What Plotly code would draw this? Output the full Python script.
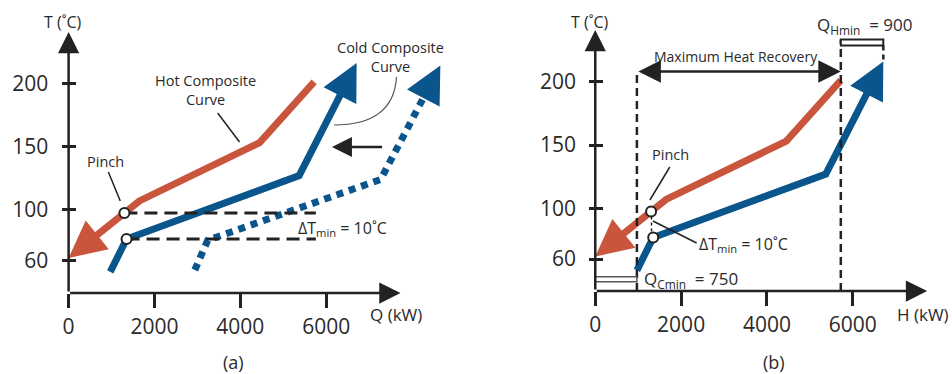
import math
import plotly.graph_objects as go

W, H = 952, 374

# ---------------- data ----------------
hot_Q = [5720, 4450, 1650, 0]          # hot composite curve (kW)
hot_T = [201, 153, 107, 62]            # degC
cold_Q = [970, 1350, 5370, 6710]       # cold composite curve (kW)
cold_T = [51, 77, 127, 216]
shift_Q = [2940, 3240, 7270, 8660]     # cold curve before shifting (panel a, dotted)
shift_T = [52.5, 76, 124, 214]
pinch_Q = [1300, 1350]                 # pinch points (hot, cold)
pinch_T = [97.5, 77]
x_tickvals = [0, 2000, 4000, 6000]
y_tickvals = [60, 100, 150, 200]
guide_end_Q = 5760                     # end of the dashed pinch guides
recovery_T = 208                       # level of the "Maximum Heat Recovery" arrow
QHmin_T = [228.5, 233.2]
QCmin_T = [42, 46]
dTmin_label = "10˚C"
QHmin_label = "900"
QCmin_label = "750"

RED = "#C9553D"
BLUE = "#0A568C"
INK = "#222222"
TXT = "#2a2a2a"
FONT = "Open Sans"

# ---------------- panel geometry (pixels) ----------------
KX = 0.0432      # px per kW
KY = 1.2668      # px per degC
TREF = 127.5
panels = {
    "a": dict(x0=63.0, yref=175.0, right=455.0, top=12.0, bottom=293.0, xa="x", ya="y", tickx=70.0),
    "b": dict(x0=593.0, yref=173.5, right=945.0, top=12.0, bottom=291.0, xa="x2", ya="y2", tickx=601.0),
}


def to_px(p, Q, T):
    g = panels[p]
    return g["x0"] + KX * Q, g["yref"] - KY * (T - TREF)


def to_data(p, X, Y):
    g = panels[p]
    return (X - g["x0"]) / KX, TREF + (g["yref"] - Y) / KY


def unit(p, a, b):
    ax_, ay_ = to_px(p, *a)
    bx_, by_ = to_px(p, *b)
    d = math.hypot(bx_ - ax_, by_ - ay_)
    return (bx_ - ax_) / d, (by_ - ay_) / d


def arrow(p, tail, tip, width, size, color, both=False, short=None):
    """Annotation arrow whose head tip lands on `tip` (data coords)."""
    g = panels[p]
    ux, uy = unit(p, tail, tip)
    s = width * size
    tx, ty = to_px(p, *tip)
    sx, sy = to_px(p, *tail)
    if short is not None:
        sx, sy = tx - short * 5 * s * ux, ty - short * 5 * s * uy
    AX, AY = to_data(p, sx, sy)
    return dict(x=tip[0], y=tip[1], ax=AX, ay=AY, xref=g["xa"], yref=g["ya"],
                axref=g["xa"], ayref=g["ya"], showarrow=True, text="",
                arrowhead=2, arrowsize=size, arrowwidth=width, arrowcolor=color,
                startarrowhead=2, startarrowsize=size,
                arrowside="end+start" if both else "end",
                standoff=0, startstandoff=0)


def truncated(p, Qs, Ts, back_px):
    ux, uy = unit(p, (Qs[-2], Ts[-2]), (Qs[-1], Ts[-1]))
    tx, ty = to_px(p, Qs[-1], Ts[-1])
    X, Y = to_data(p, tx - back_px * ux, ty - back_px * uy)
    return list(Qs[:-1]) + [X], list(Ts[:-1]) + [Y]


def ptxt(x, y, text, size=14, xanchor="center", color=TXT):
    return dict(x=x / W, y=1 - y / H, xref="paper", yref="paper", text=text,
                showarrow=False, xanchor=xanchor, yanchor="middle",
                font=dict(family=FONT, size=size, color=color))


fig = go.Figure()
annotations = []
shapes = []

CW, CS = 7, 1.05        # curve width, arrow size
HEAD = 5 * CW * CS      # nominal head length px

for p in ["a", "b"]:
    g = panels[p]
    xa, ya = g["xa"], g["ya"]
    Tbot = to_data(p, 0, g["bottom"])[1]

    # hot composite curve
    hq, ht = truncated(p, hot_Q, hot_T, 0.55 * HEAD)
    fig.add_trace(go.Scatter(x=hq, y=ht, mode="lines", xaxis=xa, yaxis=ya,
                             line=dict(color=RED, width=CW), hoverinfo="skip"))
    annotations.append(arrow(p, (hot_Q[-2], hot_T[-2]), (hot_Q[-1], hot_T[-1]), CW, CS, RED, short=0.8))

    # cold composite curve
    cq, ct = truncated(p, cold_Q, cold_T, 0.55 * HEAD)
    fig.add_trace(go.Scatter(x=cq, y=ct, mode="lines", xaxis=xa, yaxis=ya,
                             line=dict(color=BLUE, width=CW), hoverinfo="skip"))
    annotations.append(arrow(p, (cold_Q[-2], cold_T[-2]), (cold_Q[-1], cold_T[-1]), CW, CS, BLUE, short=0.8))

    if p == "a":
        sq, st = truncated(p, shift_Q, shift_T, 0.75 * HEAD)
        fig.add_trace(go.Scatter(x=sq, y=st, mode="lines", xaxis=xa, yaxis=ya,
                                 line=dict(color=BLUE, width=CW, dash="7px,6px"), hoverinfo="skip"))
        annotations.append(arrow(p, (shift_Q[-2], shift_T[-2]), (shift_Q[-1], shift_T[-1]), CW, CS, BLUE, short=0.8))
        # dashed pinch guides
        for q, t in zip(pinch_Q, pinch_T):
            fig.add_trace(go.Scatter(x=[q, guide_end_Q], y=[t, t], mode="lines", xaxis=xa, yaxis=ya,
                                     line=dict(color=INK, width=3, dash="13px,7px"), hoverinfo="skip"))
    else:
        # vertical dashed limits
        fig.add_trace(go.Scatter(x=[cold_Q[0], cold_Q[0]], y=[Tbot, recovery_T], mode="lines",
                                 xaxis=xa, yaxis=ya, line=dict(color=INK, width=2.5, dash="8px,5px"),
                                 hoverinfo="skip"))
        fig.add_trace(go.Scatter(x=[hot_Q[0], hot_Q[0]], y=[Tbot, QHmin_T[1]], mode="lines",
                                 xaxis=xa, yaxis=ya, line=dict(color=INK, width=2.5, dash="8px,5px"),
                                 hoverinfo="skip"))
        fig.add_trace(go.Scatter(x=[cold_Q[-1], cold_Q[-1]], y=[QHmin_T[0], cold_T[-1]], mode="lines",
                                 xaxis=xa, yaxis=ya, line=dict(color=INK, width=2.5, dash="5px,4px"),
                                 hoverinfo="skip"))
        # dotted dTmin marker between the pinch points
        fig.add_trace(go.Scatter(x=[pinch_Q[0] + 10, pinch_Q[0] + 10], y=[pinch_T[0] - 4, pinch_T[1] + 4],
                                 mode="lines", xaxis=xa, yaxis=ya,
                                 line=dict(color=INK, width=1.5, dash="dot"), hoverinfo="skip"))
        # maximum heat recovery double arrow
        annotations.append(arrow(p, (cold_Q[0], recovery_T), (hot_Q[0], recovery_T), 2.5, 1.8, INK, both=True))
        # utility bars
        shapes.append(dict(type="rect", xref=xa, yref=ya, x0=hot_Q[0], x1=cold_Q[-1],
                           y0=QHmin_T[0], y1=QHmin_T[1], line=dict(color=INK, width=2), fillcolor="white"))
        shapes.append(dict(type="rect", xref=xa, yref=ya, x0=0, x1=cold_Q[0],
                           y0=QCmin_T[0], y1=QCmin_T[1], line=dict(color="#555555", width=1.5), fillcolor="white"))

    # pinch circles
    fig.add_trace(go.Scatter(x=pinch_Q, y=pinch_T, mode="markers", xaxis=xa, yaxis=ya,
                             marker=dict(size=10, color="white", line=dict(color=INK, width=2)),
                             hoverinfo="skip"))

    # axes arrows
    Q_tip = to_data(p, g["x0"] + 334, 0)[0]
    T_tip = to_data(p, 0, g["bottom"] - 261)[1]
    annotations.append(arrow(p, (0, Tbot), (Q_tip, Tbot), 2.5, 1.7, INK))
    annotations.append(arrow(p, (0, Tbot), (0, T_tip), 2.5, 1.7, INK))

# ---------- leader lines ----------
def seg(p, a, b, width=1.5):
    g = panels[p]
    A = to_data(p, *a)
    B = to_data(p, *b)
    return dict(type="line", xref=g["xa"], yref=g["ya"], x0=A[0], y0=A[1], x1=B[0], y1=B[1],
                line=dict(color=INK, width=width))

shapes.append(seg("a", (213, 113), (235, 142)))      # hot composite leader
shapes.append(seg("a", (103, 172), (115, 201)))      # pinch leader (a)
shapes.append(seg("b", (668, 167), (648, 200)))      # pinch leader (b)
shapes.append(seg("b", (651, 221), (695, 243)))      # dTmin leader (b)
annotations.append(arrow("a", to_data("a", 380, 147), to_data("a", 328, 147), 2.5, 1.6, INK))

P0 = to_data("a", 393, 77)
C0 = to_data("a", 390, 125)
P1 = to_data("a", 330, 125)
shapes.append(dict(type="path", xref="x", yref="y",
                   path=f"M {P0[0]},{P0[1]} Q {C0[0]},{C0[1]} {P1[0]},{P1[1]}",
                   line=dict(color="#555555", width=1.2)))

# ---------- text ----------
sub = "<sub>min</sub>"
annotations += [
    ptxt(57, 22, "T (˚C)", 16),
    ptxt(588, 22, "T (˚C)", 16),
    ptxt(100, 162, "Pinch", 14.5),
    ptxt(669, 154, "Pinch", 14.5),
    ptxt(201, 90, "Hot Composite<br>Curve", 14.5),
    ptxt(387, 57, "Cold Composite<br>Curve", 14.5),
    ptxt(292, 228, f"ΔT{sub} = {dTmin_label}", 16, "left"),
    ptxt(695, 245, f"ΔT{sub} = {dTmin_label}", 16, "left"),
    ptxt(735, 57, "Maximum Heat Recovery", 14),
    ptxt(814, 25, f"Q<sub>Hmin</sub>  = {QHmin_label}", 17, "left"),
    ptxt(640, 279, f"Q<sub>Cmin</sub>  = {QCmin_label}", 17, "left"),
    ptxt(392, 314, "Q (kW)", 17),
    ptxt(923, 314, "H (kW)", 17),
    ptxt(229, 362, "(a)", 18),
    ptxt(773, 362, "(b)", 18),
]

layout = dict(width=W, height=H, margin=dict(l=0, r=0, t=0, b=0),
              paper_bgcolor="white", plot_bgcolor="white", showlegend=False,
              annotations=annotations, shapes=shapes)

tickfont = dict(family=FONT, size=21, color=TXT)
for p, (xk, yk) in {"a": ("xaxis", "yaxis"), "b": ("xaxis2", "yaxis2")}.items():
    g = panels[p]
    Tbot = to_data(p, 0, g["bottom"])[1]
    Ttop = to_data(p, 0, g["top"])[1]
    layout[xk] = dict(domain=[g["x0"] / W, g["right"] / W], range=[0, (g["right"] - g["x0"]) / KX],
                      anchor=g["ya"], showgrid=False, zeroline=False, showline=False,
                      tickmode="array", tickvals=x_tickvals, ticks="outside", ticklen=14,
                      tickwidth=2.5, tickcolor=INK, tickfont=tickfont, ticklabelstandoff=1)
    layout[yk] = dict(domain=[1 - g["bottom"] / H, 1 - g["top"] / H], range=[Tbot, Ttop],
                      anchor="free", position=g["tickx"] / W, showgrid=False, zeroline=False,
                      showline=False, tickmode="array", tickvals=y_tickvals, ticks="outside",
                      ticklen=14, tickwidth=2.5, tickcolor=INK, tickfont=tickfont,
                      ticklabelstandoff=9)

fig.update_layout(**layout)
fig.write_html("out.html")
